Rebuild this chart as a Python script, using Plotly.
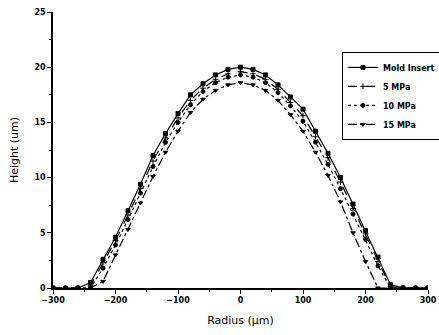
import plotly.graph_objects as go

radius = [-300, -280, -260, -240, -220, -200, -180, -160, -140, -120, -100, -80, -60, -40, -20,
          0, 20, 40, 60, 80, 100, 120, 140, 160, 180, 200, 220, 240, 260, 280, 300]

mold_insert = [0, 0, 0, 0.5, 2.6, 4.6, 7.0, 9.4, 12.0, 14.0, 15.8, 17.5, 18.5, 19.3, 19.8,
               20.0, 19.8, 19.3, 18.4, 17.3, 16.2, 14.2, 12.2, 10.0, 7.6, 5.2, 2.8, 0.3, 0, 0, 0]
mpa_5 = [0, 0, 0, 0.2, 2.3, 4.3, 6.6, 9.0, 11.5, 13.6, 15.4, 17.0, 18.1, 18.9, 19.4,
         19.6, 19.4, 18.9, 18.0, 16.8, 15.6, 13.7, 11.8, 9.6, 7.2, 4.9, 2.4, 0.1, 0, 0, 0]
mpa_10 = [0, 0, 0, 0, 1.8, 3.9, 6.2, 8.6, 11.0, 13.2, 15.0, 16.6, 17.8, 18.6, 19.1,
          19.3, 19.1, 18.6, 17.7, 16.5, 15.1, 13.2, 11.2, 9.0, 6.7, 4.4, 2.0, 0, 0, 0, 0]
mpa_15 = [0, 0, 0, 0, 0.6, 3.0, 5.3, 7.7, 10.1, 12.3, 14.2, 15.9, 17.1, 17.9, 18.4,
          18.6, 18.4, 17.9, 17.0, 15.7, 14.2, 12.3, 10.2, 7.8, 5.0, 2.4, 0, 0, 0, 0, 0]

names = ["Mold Insert", "5 MPa", "10 MPa", "15 MPa"]
series = [mold_insert, mpa_5, mpa_10, mpa_15]
symbols = ["square", "cross-thin", "circle", "triangle-down"]
dashes = ["solid", "dash", "dot", "dashdot"]

fig = go.Figure()
for name, ys, sym, dash in zip(names, series, symbols, dashes):
    fig.add_trace(go.Scatter(
        x=radius, y=ys, name=name, mode="lines+markers",
        line=dict(color="black", width=1.2, dash=dash),
        marker=dict(symbol=sym, size=4, color="black",
                    line=dict(color="black", width=1)),
    ))

bold_small = dict(size=8, family="DejaVu Sans", color="black", weight="bold")

fig.update_layout(
    width=439, height=335,
    margin=dict(l=53, r=11, t=12, b=47, autoexpand=False),
    paper_bgcolor="white", plot_bgcolor="white",
    font=dict(family="DejaVu Sans", color="black", size=8),
    showlegend=True,
    legend=dict(
        xref="container", yref="container",
        x=0.779, y=0.845, xanchor="left", yanchor="top",
        bgcolor="white", bordercolor="black", borderwidth=1,
        font=bold_small,
        itemwidth=30, tracegroupgap=0,
    ),
)
fig.update_xaxes(
    range=[-300, 300], tickvals=[-300, -200, -100, 0, 100, 200, 300],
    ticks="outside", ticklen=4, tickwidth=1.2, tickcolor="black",
    showline=True, linecolor="black", linewidth=1.5, mirror=False,
    showgrid=False, zeroline=False,
    tickfont=bold_small,
    minor=dict(dtick=50, ticks="outside", ticklen=2, tickcolor="black"),
    title=dict(text="Radius (μm)", font=dict(size=11, family="DejaVu Sans", color="black"), standoff=12),
)
fig.update_yaxes(
    range=[0, 25], tickvals=[0, 5, 10, 15, 20, 25],
    ticks="outside", ticklen=4, tickwidth=1.2, tickcolor="black",
    showline=True, linecolor="black", linewidth=1.5, mirror=False,
    showgrid=False, zeroline=False,
    tickfont=bold_small,
    minor=dict(dtick=2.5, ticks="outside", ticklen=2, tickcolor="black"),
    title=dict(text="Height (um)", font=dict(size=11, family="DejaVu Sans", color="black"), standoff=14),
)

fig.write_html("out.html")
